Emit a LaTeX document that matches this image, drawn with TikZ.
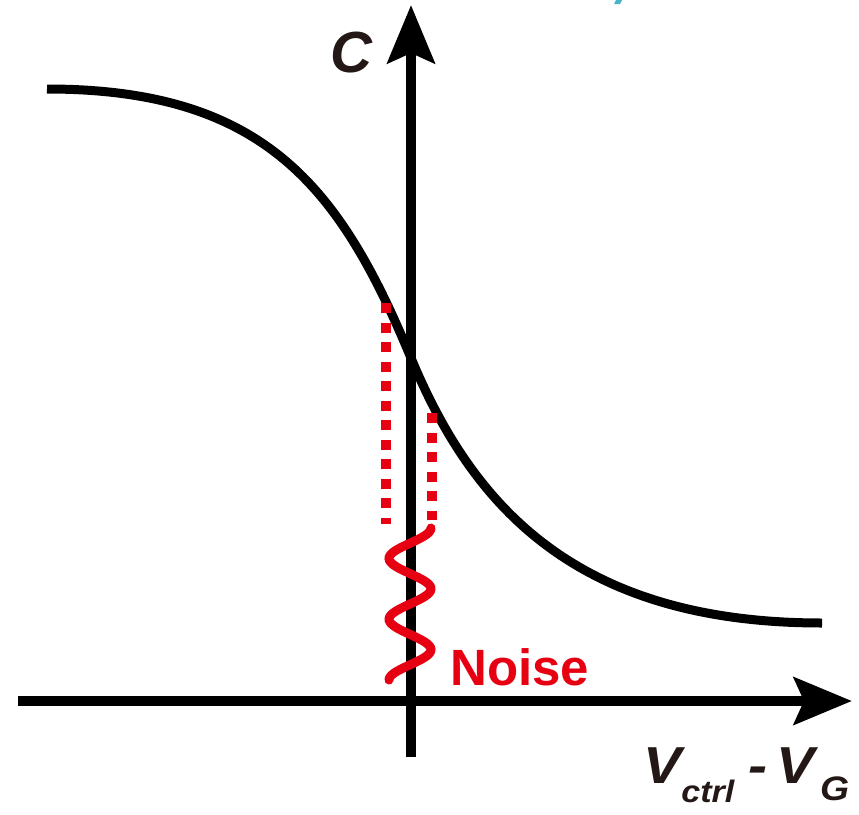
\documentclass[tikz,border=0pt]{standalone}
\usepackage{fontspec}
\setmainfont{Liberation Sans}
\usetikzlibrary{arrows.meta}
\definecolor{noisered}{RGB}{230,0,18}
\definecolor{labblack}{RGB}{35,24,21}
\definecolor{cyanmark}{RGB}{72,180,200}
\tikzset{
  axisline/.style={line width=10.5pt, -{Stealth[length=58pt, width=47pt, inset=10pt]}},
  curveline/.style={line width=9pt},
  dotline/.style={noisered, line width=10pt, dash pattern=on 10pt off 9.5pt},
  waveline/.style={noisered, line width=9pt, line cap=round},
  bigit/.style={font=\fontsize{58}{58}\selectfont\bfseries\itshape, text=labblack, inner sep=0pt},
  xlab/.style={font=\fontsize{52}{52}\selectfont\bfseries\itshape, text=labblack, inner sep=0pt, xscale=1.1},
  noiselab/.style={font=\fontsize{51}{51}\selectfont\bfseries, text=noisered, inner sep=0pt}
}
\begin{document}
\begin{tikzpicture}[x=1pt, y=-1pt]
\useasboundingbox (0,0) rectangle (859,814);
% cyan fragment at top edge
\fill[cyanmark] (614,4) -- (616,0) -- (622,0) -- (620,4) -- cycle;
% axes
\coordinate (xs) at (18,701);
\coordinate (xe) at (852,701);
\coordinate (ys) at (411,757);
\coordinate (ye) at (411,5);
\draw[axisline] (xs) -- (xe);
\draw[axisline] (ys) -- (ye);
% curve
\coordinate (c0) at (47,89);
\coordinate (cm) at (411,358);
\coordinate (c1) at (822,623);
\draw[curveline] (c0) .. controls (267,89) and (341,190) .. (cm)
                      .. controls (471,502) and (572,623) .. (c1);
% dotted lines
\coordinate (d1a) at (386,303);
\coordinate (d1b) at (386,524);
\coordinate (d2a) at (432,413);
\coordinate (d2b) at (432,520);
\draw[dotline] (d1a) -- (d1b);
\draw[dotline] (d2a) -- (d2b);
% noise wave
\draw[waveline] plot[domain=0:152, samples=90, smooth] ({410+21*cos(5.921*\x)}, {528+\x});
% labels
\node[bigit, anchor=center] (c) at (351,53) {C};
\node[noiselab, anchor=base west] (noise) at (450,685) {Noise};
\node[xlab, anchor=base west] (xl) at (643,783) {V\raisebox{-19pt}{\fontsize{31}{31}\selectfont ctrl}\hspace{13pt}-\hspace{8pt}V\hspace{5pt}\raisebox{-17pt}{\fontsize{34}{34}\selectfont G}};
\end{tikzpicture}
\end{document}
